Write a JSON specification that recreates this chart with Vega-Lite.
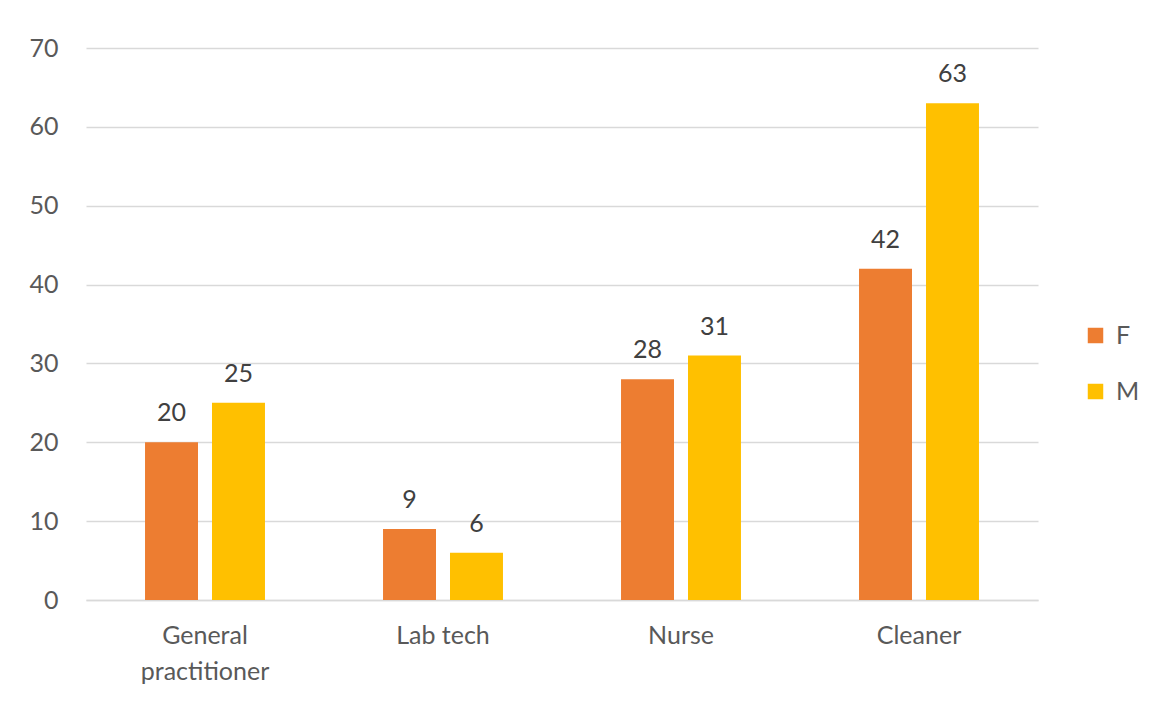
{
  "$schema": "https://vega.github.io/schema/vega-lite/v6.json",
  "width": 952,
  "height": 552,
  "autosize": {"type": "none"},
  "padding": {"left": 86, "top": 48, "right": 118, "bottom": 104},
  "background": "white",
  "config": {
    "font": "Lato",
    "view": {"stroke": null}
  },
  "data": {
    "values": [
      {"job": "General practitioner", "sex": "F", "count": 20},
      {"job": "General practitioner", "sex": "M", "count": 25},
      {"job": "Lab tech", "sex": "F", "count": 9},
      {"job": "Lab tech", "sex": "M", "count": 6},
      {"job": "Nurse", "sex": "F", "count": 28},
      {"job": "Nurse", "sex": "M", "count": 31},
      {"job": "Cleaner", "sex": "F", "count": 42},
      {"job": "Cleaner", "sex": "M", "count": 63}
    ]
  },
  "encoding": {
    "x": {
      "field": "job",
      "type": "nominal",
      "sort": ["General practitioner", "Lab tech", "Nurse", "Cleaner"],
      "scale": {"paddingInner": 0.496, "paddingOuter": 0.248},
      "axis": {
        "title": null,
        "labelAngle": 0,
        "labelFontSize": 25,
        "labelColor": "#595959",
        "labelPadding": 23,
        "labelLineHeight": 36,
        "labelExpr": "datum.value == 'General practitioner' ? ['General', 'practitioner'] : datum.value",
        "ticks": false,
        "domainColor": "#d9d9d9",
        "domainWidth": 1.5
      }
    },
    "xOffset": {
      "field": "sex",
      "type": "nominal",
      "scale": {"paddingInner": 0.209, "paddingOuter": 0}
    },
    "y": {
      "field": "count",
      "type": "quantitative",
      "scale": {"domain": [0, 70]},
      "axis": {
        "title": null,
        "values": [0, 10, 20, 30, 40, 50, 60, 70],
        "labelOverlap": false,
        "labelBound": false,
        "labelFlush": false,
        "labelFontSize": 25,
        "labelColor": "#595959",
        "labelPadding": 28,
        "ticks": false,
        "domain": false,
        "gridColor": "#d9d9d9",
        "gridWidth": 1.5
      }
    }
  },
  "layer": [
    {
      "mark": {"type": "bar"},
      "encoding": {
        "color": {
          "field": "sex",
          "type": "nominal",
          "scale": {"domain": ["F", "M"], "range": ["#ED7D31", "#FFC000"]},
          "legend": {
            "title": null,
            "orient": "none",
            "legendX": 997,
            "legendY": 275,
            "symbolType": "square",
            "symbolSize": 240,
            "symbolStrokeWidth": 0,
            "labelFontSize": 25,
            "labelColor": "#595959",
            "rowPadding": 30,
            "labelOffset": 8
          }
        }
      }
    },
    {
      "mark": {"type": "text", "baseline": "alphabetic", "dy": -21, "fontSize": 25, "color": "#404040"},
      "encoding": {
        "text": {"field": "count", "type": "quantitative"}
      }
    }
  ]
}
